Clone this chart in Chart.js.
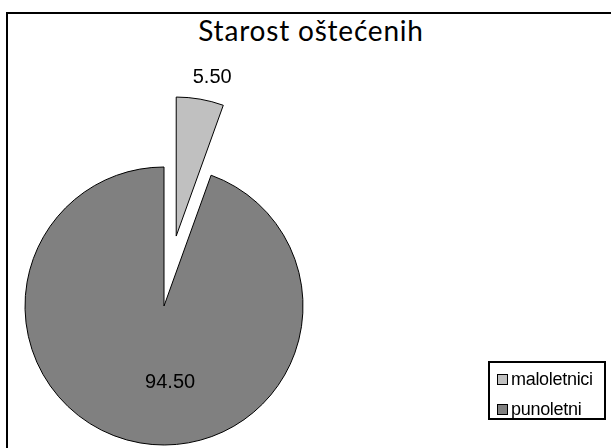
<!DOCTYPE html>
<html>
<head>
<meta charset="utf-8">
<script src="https://cdn.jsdelivr.net/npm/chart.js@4"></script>
<style>
  html, body { margin: 0; padding: 0; background: #fff; }
  #wrap { position: relative; width: 611px; height: 448px; overflow: hidden; }
  #frame { position: absolute; left: 6px; top: 12px; width: 700px; height: 600px; border: 2px solid #000; }
  #title { position: absolute; left: 0; top: 13px; width: 622px; text-align: center;
           font-family: Lato, "Open Sans", sans-serif; font-size: 28px; letter-spacing: 0.8px; color: #000; }
  #legend { position: absolute; left: 488px; top: 361px; width: 114px; height: 55px;
            border: 2px solid #000; font-family: "Liberation Sans", Arial, sans-serif;
            font-size: 18px; letter-spacing: -0.3px; }
  .item { position: absolute; left: 7px; height: 20px; line-height: 20px; white-space: nowrap; }
  .box { display: inline-block; width: 9px; height: 9px; border: 1px solid #000;
         vertical-align: middle; margin-right: 3px; position: relative; top: -1px; }
  canvas { position: absolute; left: 0; top: 0; }
</style>
</head>
<body>
<div id="wrap">
  <div id="frame"></div>
  <div id="title">Starost oštećenih</div>
  <canvas id="myChart" width="611" height="448"></canvas>
  <div id="legend"></div>
</div>
<script>
const labels = ["maloletnici", "punoletni"]
const values = [5.5, 94.5]
const valueText = ["5.50", "94.50"]
const colors = ['#C0C0C0', '#808080']
const explode = [71, 0]

// where the value labels sit: distance (x radius) and turn in degrees
const labelDist = [1.17, 0.55]
const labelTurn = [2, -14.5]

// move a slice out along its middle angle, library still draws the arc
const explodePlugin = {
  id: 'explode',
  beforeDatasetDraw(chart, args) {
    const ctx = chart.ctx
    args.meta.data.forEach((arc, i) => {
      const mid = (arc.startAngle + arc.endAngle) / 2
      const d = explode[i] || 0
      ctx.save()
      ctx.translate(Math.cos(mid) * d, Math.sin(mid) * d)
      arc.draw(ctx)
      ctx.restore()
    })
    return false
  }
}

const labelPlugin = {
  id: 'valueLabels',
  afterDatasetsDraw(chart) {
    const ctx = chart.ctx
    const meta = chart.getDatasetMeta(0)
    ctx.save()
    ctx.font = '20px "Liberation Sans", Arial, sans-serif'
    ctx.fillStyle = '#000'
    ctx.textAlign = 'center'
    ctx.textBaseline = 'middle'
    meta.data.forEach((arc, i) => {
      const mid = (arc.startAngle + arc.endAngle) / 2 + labelTurn[i] * Math.PI / 180
      const r = arc.outerRadius * labelDist[i] + explode[i]
      ctx.fillText(valueText[i], arc.x + Math.cos(mid) * r, arc.y + Math.sin(mid) * r)
    })
    ctx.restore()
  }
}

let createChart = () => {
  const ctx = document.getElementById("myChart")
  new Chart(ctx, {
    type: 'pie',
    data: {
      labels: labels,
      datasets: [{
        data: values,
        backgroundColor: colors,
        borderColor: '#000',
        borderWidth: 1
      }]
    },
    options: {
      responsive: false,
      animation: false,
      radius: 139,
      layout: { padding: { left: 0, right: 283, top: 164, bottom: 0 } },
      plugins: {
        legend: { display: false },
        tooltip: { enabled: false }
      }
    },
    plugins: [explodePlugin, labelPlugin]
  })
}

let createLegend = () => {
  const el = document.getElementById("legend")
  labels.forEach((l, i) => {
    const item = document.createElement("div")
    item.className = "item"
    item.style.top = (6 + i * 30) + "px"
    item.innerHTML = '<span class="box" style="background:' + colors[i] + '"></span>' + l
    el.appendChild(item)
  })
}

createChart()
createLegend()
</script>
</body>
</html>
